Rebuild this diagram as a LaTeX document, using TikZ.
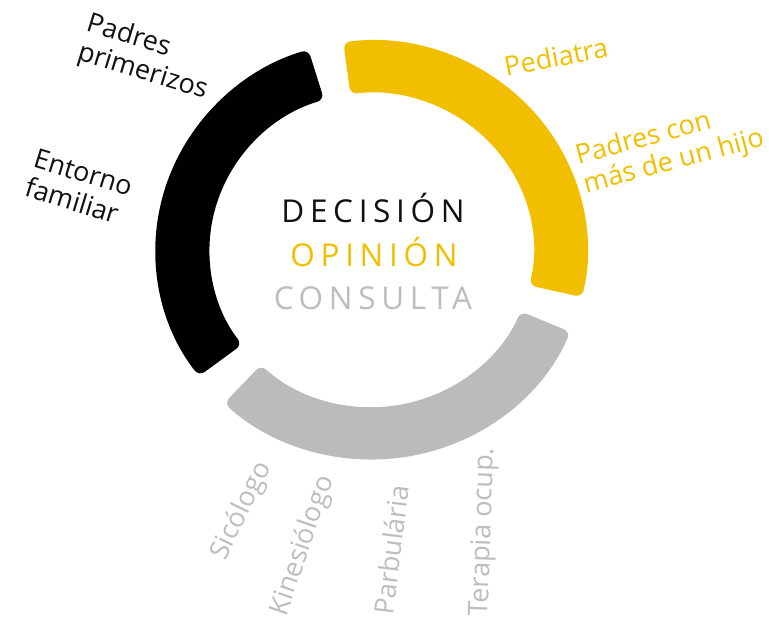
\documentclass[tikz,border=0pt]{standalone}
\usepackage{fontspec}
\setmainfont{Open Sans}
\definecolor{ringyellow}{HTML}{F2BF00}
\definecolor{ringgray}{HTML}{BBBBBA}
\definecolor{textgray}{HTML}{BDBDBD}
\definecolor{textblack}{HTML}{111111}
% band of the ring: colour, start angle, end angle
\newcommand{\ringband}[3]{%
  \fill[#1, rounded corners=7pt] (#2:216) arc[start angle=#2, end angle=#3, radius=216]
    -- (#3:162) arc[start angle=#3, end angle=#2, radius=162] -- cycle;}
\begin{document}
\begin{tikzpicture}[x=1pt, y=1pt,
  lbl/.style={inner sep=0pt, align=left, font=\fontsize{27}{30}\selectfont},
  mid/.style={inner sep=0pt, font=\fontsize{31.5}{36}\selectfont\addfontfeature{LetterSpace=18}}]
\useasboundingbox (0,0) rectangle (769,-622);
\begin{scope}[shift={(371.5,-250)}, yscale=0.97]
\ringband{ringyellow}{97.5}{-13}
\ringband{ringgray}{-23}{-133}
\ringband{black}{217}{107}
\end{scope}
\node[mid, textblack] (decision) at (373,-208) {DECISIÓN};
\node[mid, ringyellow] (opinion) at (374,-252) {OPINIÓN};
\node[mid, textgray] (consulta) at (373,-298) {CONSULTA};
\node[lbl, textblack, rotate=-17] (primerizos) at (147,-58) {Padres\\primerizos};
\node[lbl, textblack, rotate=-17] (entorno) at (79,-187) {Entorno\\familiar};
\node[lbl, ringyellow, rotate=11] (pediatra) at (556,-57) {Pediatra};
\node[lbl, ringyellow, rotate=15] (masdeuno) at (670,-148) {Padres con\\más de un hijo};
\node[lbl, textgray, rotate=64] (sicologo) at (242,-511) {Sicólogo};
\node[lbl, textgray, rotate=71] (kinesiologo) at (303,-546) {Kinesiólogo};
\node[lbl, textgray, rotate=83] (parbularia) at (391,-550) {Parbulária};
\node[lbl, textgray, rotate=88] (terapia) at (484,-532) {Terapia ocup.};
\end{tikzpicture}
\end{document}
